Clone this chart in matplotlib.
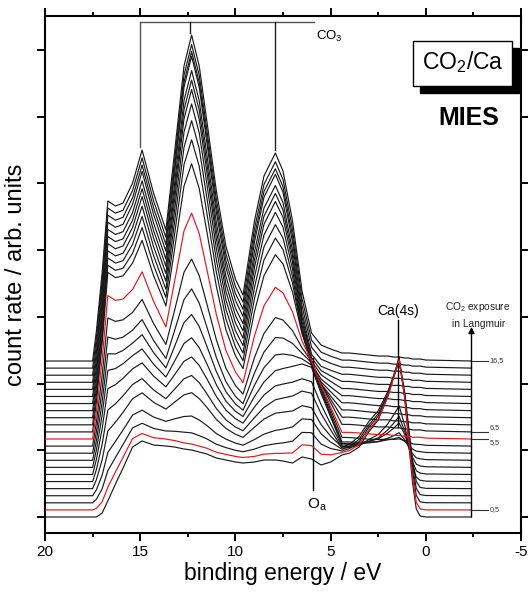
import numpy as np
import matplotlib
matplotlib.use('Agg')
import matplotlib.pyplot as plt
from matplotlib.ticker import MultipleLocator, NullFormatter
from matplotlib.patches import Rectangle

plt.rcParams['font.family'] = ['Liberation Sans', 'DejaVu Sans']
plt.rcParams['mathtext.fontset'] = 'custom'
plt.rcParams['mathtext.rm'] = 'Liberation Sans'
plt.rcParams['mathtext.it'] = 'Liberation Sans:italic'
plt.rcParams['axes.unicode_minus'] = False

E_KNOTS = [-2.4, 0.0, 0.3, 0.5, 0.7, 0.9, 1.1, 1.4, 1.7, 2.0, 2.5, 3.0, 3.5, 4.0, 4.4,
           5.0, 5.5, 6.0, 6.5, 7.0, 7.5, 7.9, 8.5, 9.0, 9.6, 10.0, 10.5, 11.0, 11.5,
           11.9, 12.3, 12.7, 13.2, 13.65, 14.3, 14.9, 15.4, 15.9, 16.3, 16.7, 17.0,
           17.3, 17.5, 20.0]

# spectral components (count rate, arb. units)
CLEAN_BG = [0, 0, 1, 2, 10, 25, 43, 60, 52, 45, 39, 40, 45, 54, 59,
            55, 52, 58, 60, 54, 56, 57, 57, 55, 54, 55, 57, 59, 63,
            65, 67, 68, 70, 71, 72, 76, 70, 49, 33, 16, 4,
            0, 0, 0]
CA_4S = [0, 0, 0, 6, 25, 50, 75, 100, 88, 75, 58, 45, 25, 10, 3,
         0, 0, 0, 0, 0, 0, 0, 0, 0, 0, 0, 0, 0, 0,
         0, 0, 0, 0, 0, 0, 0, 0, 0, 0, 0, 0,
         0, 0, 0]
O_A = [0, 0, 0, 0, 0, 0, 0, 0, 0, 0, 0, 0, 0, 0, 0,
       40, 72, 100, 85, 55, 30, 18, 8, 3, 0, 0, 0, 0, 0,
       0, 0, 0, 0, 0, 0, 0, 0, 0, 0, 0, 0,
       0, 0, 0]
CO3_BG = [0, 1, 2, 2, 2, 3, 3, 4, 4, 5, 5, 5, 6, 6, 6,
          10, 14, 20, 28, 36, 42, 46, 50, 52, 55, 58, 62, 68, 75,
          80, 85, 90, 100, 110, 120, 130, 140, 150, 152, 158, 88,
          30, 0, 0]
CO3_PEAKS = [0, 0, 0, 0, 0, 0, 0, 0, 0, 0, 0, 1, 1, 2, 2,
             2, 2, 8, 42, 104, 148, 162, 135, 88, 11, 24, 53, 102, 165,
             215, 241, 205, 108, 21, 48, 81, 38, 8, 3, 2, 0,
             0, 0, 0]

# CO2 exposure (Langmuir) of each spectrum, bottom to top
EXPOSURE = [0.0, 0.5, 1.0, 1.5, 2.0, 2.5, 3.0, 3.5, 4.0, 4.5, 5.0, 5.5,
            6.5, 7.5, 8.5, 9.5, 10.5, 11.5, 12.5, 13.5, 14.5, 15.5, 16.5]
W_CLEAN = [1.00, 0.92, 0.82, 0.72, 0.62, 0.50, 0.40, 0.30, 0.20, 0.10, 0.05, 0.00,
           0, 0, 0, 0, 0, 0, 0, 0, 0, 0, 0]
W_CA = [1.00, 0.95, 0.93, 0.91, 0.90, 0.44, 0.32, 0.24, 0.13, 0.07, 0.01, 0.00,
        0, 0, 0, 0, 0, 0, 0, 0, 0, 0, 0]
W_OA = [0.00, 0.10, 0.20, 0.30, 0.38, 0.50, 0.58, 0.69, 0.68, 0.67, 0.62, 0.55,
        0.45, 0.35, 0.25, 0.18, 0.12, 0.08, 0.04, 0, 0, 0, 0]
W_CO3_BG = [0.00, 0.05, 0.12, 0.20, 0.30, 0.40, 0.50, 0.58, 0.65, 0.72, 0.80, 0.90,
            1, 1, 1, 1, 1, 1, 1, 1, 1, 1, 1]
W_CO3 = [0.00, 0.00, 0.02, 0.06, 0.12, 0.16, 0.20, 0.25, 0.32, 0.40, 0.48, 0.62,
         0.76, 0.83, 0.88, 0.92, 0.95, 0.96, 0.97, 1.00, 0.99, 0.99, 1.00]

RED_CURVES = [0.5, 5.5]
LABELLED = {16.5: '16,5', 6.5: '6,5', 5.5: '5,5', 0.5: '0,5'}

OFFSET_STEP = 7.09

fig = plt.figure(figsize=(5.28, 5.97), dpi=100)
ax = fig.add_axes([45 / 528, 1 - 533 / 597, 476 / 528, 517 / 597])

e = np.array(E_KNOTS)
comps = [np.array(c, dtype=float) for c in (CLEAN_BG, CA_4S, O_A, CO3_BG, CO3_PEAKS)]
for i, expo in enumerate(EXPOSURE):
    w = (W_CLEAN[i], W_CA[i], W_OA[i], W_CO3_BG[i], W_CO3[i])
    y = i * OFFSET_STEP + sum(wk * c for wk, c in zip(w, comps))
    red = expo in RED_CURVES
    ax.plot(e, y, color='#e8141c' if red else '#1a1a1a', lw=0.85,
            zorder=3 if red else 2)
    if expo in LABELLED:
        base = i * OFFSET_STEP
        ax.plot([-2.4, -3.25], [base, base], color='#333333', lw=0.8, clip_on=False)
        dy = {6.5: 4, 5.5: -4}.get(expo, 0)
        ax.text(-3.35, base + dy, LABELLED[expo], fontsize=5.2, color='#333333',
                ha='left', va='center')

# exposure arrow
ax.annotate('', xy=(-2.4, 190), xytext=(-2.4, 0),
            arrowprops=dict(arrowstyle='-|>', color='k', lw=1.0, mutation_scale=9,
                            shrinkA=0, shrinkB=0))
ax.text(-2.75, 210, 'CO$_2$ exposure', fontsize=7.3, ha='center', va='center', color='#222222')
ax.text(-2.75, 193, 'in Langmuir', fontsize=7.3, ha='center', va='center', color='#222222')

# CO3 markers
ax.plot([15.0, 5.85], [495, 495], color='#555555', lw=1.0)
for ex, ylow in [(15.0, 370), (12.4, 484), (7.9, 367)]:
    ax.plot([ex, ex], [495, ylow], color='#555555' if ex == 15.0 else '#222222', lw=1.0)
ax.text(5.75, 481, 'CO$_3$', fontsize=9.5, ha='left', va='center')

# Ca(4s) and O_a markers
ax.plot([1.45, 1.45], [197, 90], color='k', lw=1.0)
ax.text(1.45, 206, 'Ca(4s)', fontsize=10, ha='center', va='center')
ax.plot([5.9, 5.9], [159, 27], color='k', lw=1.0)
ax.text(5.7, 12, 'O$_\\mathrm{a}$', fontsize=11, ha='center', va='center')

# title boxes
fig.patches.append(Rectangle((420 / 528, 1 - 93 / 597), 99 / 528, 45 / 597,
                             transform=fig.transFigure, facecolor='k', edgecolor='k'))
fig.patches.append(Rectangle((413 / 528, 1 - 86 / 597), 99 / 528, 45 / 597,
                             transform=fig.transFigure, facecolor='white',
                             edgecolor='k', lw=1.0))
fig.text(462.5 / 528, 1 - 62 / 597, 'CO$_2$/Ca', fontsize=16.5, ha='center', va='center')
fig.text(469 / 528, 1 - 118 / 597, 'MIES', fontsize=18, fontweight='bold',
         ha='center', va='center')

ax.set_xlim(20, -5)
ax.set_ylim(-16, 501)
ax.xaxis.set_major_locator(MultipleLocator(5))
ax.xaxis.set_minor_locator(MultipleLocator(2.5))
ax.yaxis.set_major_locator(MultipleLocator(66.7))
ax.yaxis.set_major_formatter(NullFormatter())
ax.tick_params(which='both', direction='out', top=True, right=True, width=1.4,
               labelsize=11)
ax.tick_params(which='major', length=5.5)
ax.tick_params(which='minor', length=3)
for s in ax.spines.values():
    s.set_linewidth(1.5)

ax.set_xlabel('binding energy / eV', fontsize=16.5, labelpad=2)
ax.set_ylabel('count rate / arb. units', fontsize=17, labelpad=4)

fig.savefig('out.png', dpi=100)
